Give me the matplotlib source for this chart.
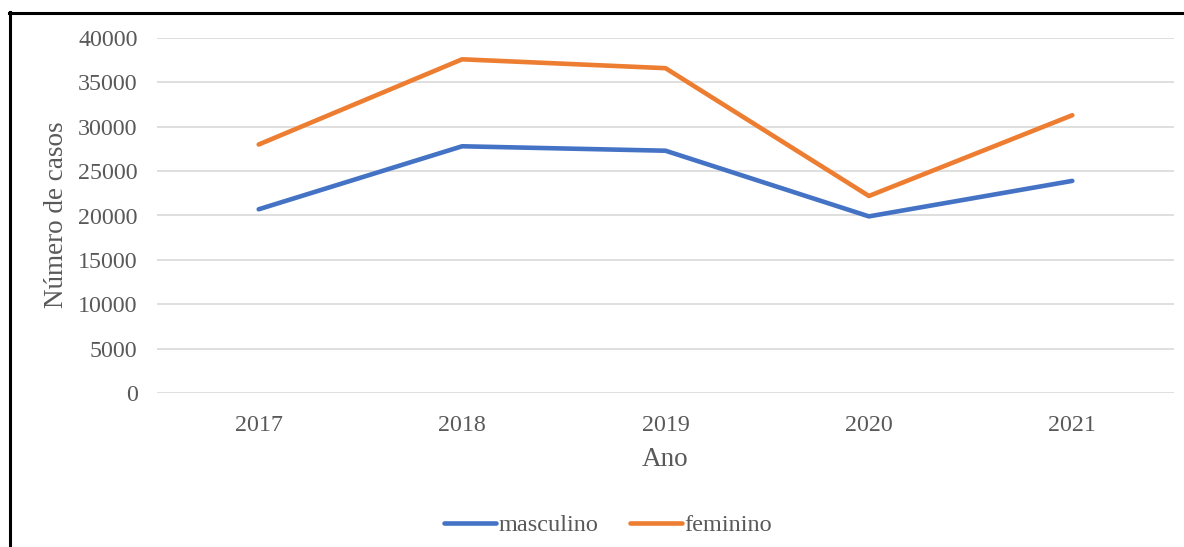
import matplotlib
matplotlib.use("Agg")
import matplotlib.pyplot as plt
from matplotlib.lines import Line2D

anos = ["2017", "2018", "2019", "2020", "2021"]
masculino = [20700, 27800, 27300, 19900, 23900]
feminino = [28000, 37600, 36600, 22200, 31300]
yticks = [0, 5000, 10000, 15000, 20000, 25000, 30000, 35000, 40000]

plt.rcParams['font.family'] = ['Liberation Serif', 'DejaVu Serif']
txt = '#595959'

fig = plt.figure(figsize=(11.84, 5.47), dpi=100)
ax = fig.add_axes([157/1184, 1-393/547, (1174-157)/1184, (393-38)/547])

x = list(range(len(anos)))
l1, = ax.plot(x, masculino, color='#4472C4', lw=3.3, solid_capstyle='round', solid_joinstyle='round', label='masculino')
l2, = ax.plot(x, feminino, color='#ED7D31', lw=3.3, solid_capstyle='round', solid_joinstyle='round', label='feminino')

ax.set_xlim(-0.5, len(anos) - 0.5)
ax.set_ylim(0, 40000)
ax.set_xticks(x)
ax.set_xticklabels(anos)
ax.set_yticks(yticks)
ax.set_yticklabels([str(v) for v in yticks])
ax.grid(axis='y', color='#d9d9d9', lw=1.2)
ax.set_axisbelow(True)
for s in ax.spines.values():
    s.set_visible(False)
ax.tick_params(axis='both', length=0, labelsize=17.3, colors=txt)
ax.tick_params(axis='y', pad=14)
ax.tick_params(axis='x', pad=16)

fig.text(57/1184, 1-215/547, 'Número de casos', rotation=90, ha='center', va='center', fontsize=19.5, color=txt)
fig.text(665/1184, 1-460/547, 'Ano', ha='center', va='center', fontsize=19.5, color=txt)

fig.legend(handles=[l1, l2], loc='center', bbox_to_anchor=(608/1184, 1-525/547), ncol=2,
           frameon=False, fontsize=17.5, handlelength=2.15, handletextpad=0.1, columnspacing=1.3,
           labelcolor=txt)

fig.add_artist(Line2D([9.5/1184, 9.5/1184], [0, 1-12/547], color='black', lw=2.2, transform=fig.transFigure))
fig.add_artist(Line2D([8.5/1184, 1], [1-12.5/547, 1-12.5/547], color='black', lw=2.2, transform=fig.transFigure))

fig.savefig('out.png', dpi=100)
